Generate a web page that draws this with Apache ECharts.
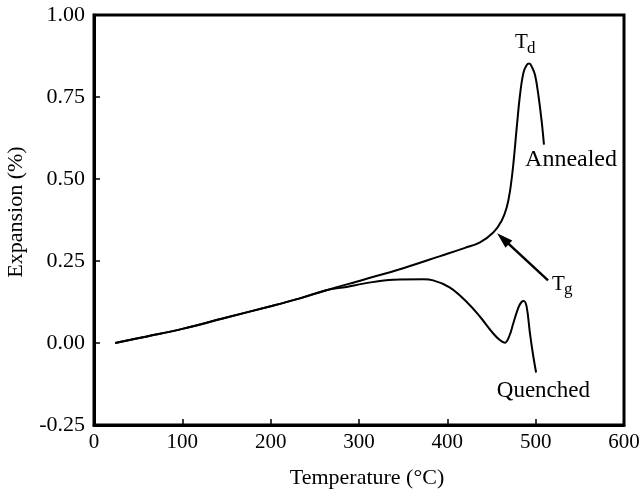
<!DOCTYPE html>
<html>
<head>
<meta charset="utf-8">
<script src="https://cdn.jsdelivr.net/npm/echarts@6/dist/echarts.min.js"></script>
<style>
  html, body { margin: 0; padding: 0; background: #fff; }
  #chart { width: 643px; height: 492px; }
</style>
</head>
<body>
<div id="chart"></div>
<script>
// Dilatometer traces: temperature (°C) vs expansion (%)
const annealedTemp = [24, 60, 100, 150, 200, 233, 263, 305, 350, 392, 420, 437, 452, 461.5, 467.2, 471, 474.7, 478.5, 482.3, 486, 489.5, 492.8, 496, 499.3, 503, 506.8, 509.4];
const annealedExp  = [0, 0.02, 0.043, 0.078, 0.112, 0.136, 0.161, 0.193, 0.228, 0.265, 0.29, 0.307, 0.337, 0.373, 0.413, 0.464, 0.545, 0.655, 0.757, 0.822, 0.846, 0.852, 0.84, 0.817, 0.757, 0.676, 0.605];

const quenchedTemp = [24, 60, 100, 150, 200, 233, 263, 286, 305, 339, 373, 384, 403, 422, 437, 452, 459, 465, 470, 474.7, 480.4, 484, 486.5, 489.8, 493.5, 497, 500.5];
const quenchedExp  = [0, 0.02, 0.043, 0.078, 0.112, 0.136, 0.161, 0.171, 0.181, 0.193, 0.194, 0.191, 0.169, 0.125, 0.08, 0.029, 0.01, 0.001, 0.02, 0.06, 0.108, 0.125, 0.128, 0.11, 0.03, -0.035, -0.09];

const xTicks = [0, 100, 200, 300, 400, 500, 600];
const yTicks = [-0.25, 0, 0.25, 0.5, 0.75, 1.0];

// Tg arrow: tail and head in data units
const tgArrowTail = [514, 0.191];
const tgArrowHead = [463, 0.318];

const pair = (xs, ys) => xs.map((x, i) => [x, ys[i]]);
const FONT = '"Liberation Serif", "DejaVu Serif", serif';

const chart = echarts.init(document.getElementById('chart'), null, { renderer: 'canvas' });

const option = {
  backgroundColor: '#fff',
  animation: false,
  grid: { left: 94, right: 19, top: 15, bottom: 67, show: true, borderColor: '#000', borderWidth: 3, backgroundColor: 'transparent' },
  xAxis: {
    type: 'value', min: xTicks[0], max: xTicks[xTicks.length - 1], interval: 100,
    axisLine: { show: true, onZero: false, lineStyle: { color: '#000', width: 3 } },
    axisTick: { inside: true, length: 6, lineStyle: { color: '#000', width: 1.5 } },
    axisLabel: { color: '#000', fontFamily: FONT, fontSize: 21, margin: 7 },
    splitLine: { show: false }
  },
  yAxis: {
    type: 'value', min: yTicks[0], max: yTicks[yTicks.length - 1], interval: 0.25,
    axisLine: { show: true, onZero: false, lineStyle: { color: '#000', width: 3 } },
    axisTick: { inside: true, length: 6, lineStyle: { color: '#000', width: 1.5 } },
    axisLabel: { color: '#000', fontFamily: FONT, fontSize: 22, margin: 9, formatter: v => v.toFixed(2) },
    splitLine: { show: false }
  },
  series: [
    {
      name: 'Annealed', type: 'line', data: pair(annealedTemp, annealedExp),
      smooth: 0.4, symbol: 'none',
      lineStyle: { color: '#000', width: 2 }
    },
    {
      name: 'Quenched', type: 'line', data: pair(quenchedTemp, quenchedExp),
      smooth: 0.4, symbol: 'none',
      lineStyle: { color: '#000', width: 2 },
      markLine: {
        silent: true, symbol: ['none', 'triangle'], symbolSize: [10, 16],
        lineStyle: { color: '#000', width: 2.5, type: 'solid' },
        label: { show: false },
        data: [[{ coord: tgArrowTail }, { coord: tgArrowHead }]]
      }
    }
  ]
};
chart.setOption(option);

// Annotations placed from data coordinates
function px(pt) { return chart.convertToPixel({ gridIndex: 0 }, pt); }
function txt(pt, s, size) {
  const p = px(pt);
  return { type: 'text', x: p[0], y: p[1], silent: true,
    style: { text: s, fill: '#000', font: size + 'px ' + FONT, textAlign: 'left', textVerticalAlign: 'middle' } };
}
function sub(pt, s, size, dx, dy) {
  const p = px(pt);
  return { type: 'text', x: p[0] + dx, y: p[1] + dy, silent: true,
    style: { text: s, fill: '#000', font: size + 'px ' + FONT, textAlign: 'left', textVerticalAlign: 'middle' } };
}
const tdPos = [476.6, 0.915];
const tgPos = [518.5, 0.179];
chart.setOption({
  graphic: [
    txt(tdPos, 'T', 21),
    sub(tdPos, 'd', 17, 12, 6),
    txt([488, 0.558], 'Annealed', 24),
    txt(tgPos, 'T', 21),
    sub(tgPos, 'g', 17, 12, 5),
    txt([456, -0.145], 'Quenched', 23),
    { type: 'text', x: 367, y: 478, silent: true, style: { text: 'Temperature (°C)', fill: '#000', font: '22px ' + FONT, textAlign: 'center', textVerticalAlign: 'middle' } },
    { type: 'text', x: 16, y: 212, rotation: Math.PI / 2, silent: true, style: { text: 'Expansion (%)', fill: '#000', font: '22px ' + FONT, textAlign: 'center', textVerticalAlign: 'middle' } }
  ]
});
</script>
</body>
</html>
